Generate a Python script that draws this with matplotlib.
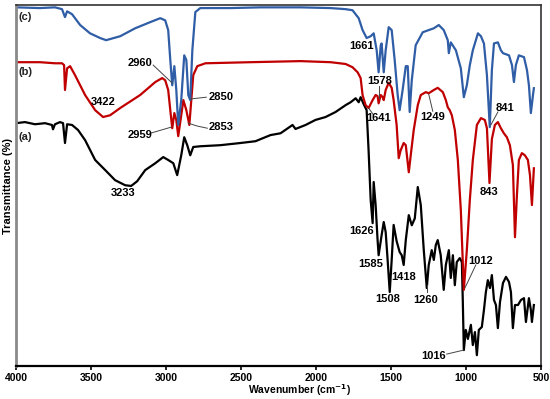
import matplotlib
matplotlib.use("Agg")
import matplotlib.pyplot as plt

plt.rcParams['font.family'] = ['Liberation Sans', 'DejaVu Sans']
plt.rcParams['font.weight'] = 'bold'

# ---- spectrum (c) ----
wn_c = [4000, 3840, 3740, 3693, 3673, 3659, 3626, 3572, 3506, 3439, 3399, 3305, 3205, 3105, 3038, 3005,
        2985, 2971, 2958, 2944, 2931, 2918, 2898, 2878, 2864, 2851, 2838, 2824, 2804, 2771, 2570, 2370,
        2103, 1902, 1802, 1756, 1715, 1689, 1662, 1635, 1615, 1595, 1582, 1568, 1562, 1548, 1535, 1515,
        1495, 1475, 1455, 1442, 1422, 1401, 1388, 1375, 1361, 1335, 1288, 1248, 1214, 1181, 1148, 1121,
        1114, 1101, 1067, 1034, 1014, 994, 974, 954, 920, 900, 880, 860, 841, 827, 813, 787, 767, 753,
        713, 693, 680, 667, 647, 613, 593, 580, 567, 553, 547]
t_c = [99.4, 99.2, 99.4, 98.9, 96.7, 98.3, 97.5, 94.5, 92.2, 90.9, 90.3, 91.4, 93.6, 95.3, 96.4, 95.8,
       93.1, 84.8, 77.8, 83.1, 76.5, 66.8, 73.7, 86.1, 84.8, 75.1, 73.7, 87.5, 98.1, 99.2, 99.2, 99.4,
       99.4, 99.2, 98.9, 98.6, 96.4, 93.1, 90.9, 91.4, 92.2, 87.5, 81.4, 88.9, 89.4, 81.4, 87.5, 93.9,
       93.1, 84.8, 75.1, 70.9, 76.5, 83.1, 83.1, 70.4, 79.2, 88.9, 92.5, 93.1, 93.6, 94.5, 93.1, 90.3,
       86.7, 89.7, 87.5, 82.5, 74.5, 77.8, 83.4, 87.5, 92.2, 91.4, 89.4, 80.6, 66.2, 82.0, 89.4, 89.7,
       87.5, 86.7, 86.1, 83.4, 78.7, 83.4, 86.1, 85.6, 82.0, 77.8, 70.1, 75.1, 77.0]

# ---- spectrum (b) ----
wn_b = [4000, 3840, 3740, 3693, 3679, 3673, 3659, 3639, 3606, 3539, 3472, 3419, 3372, 3305, 3172, 3071,
        3025, 3005, 2985, 2971, 2958, 2944, 2931, 2918, 2898, 2884, 2864, 2844, 2831, 2818, 2791, 2737,
        2437, 2103, 1902, 1802, 1756, 1722, 1702, 1689, 1669, 1649, 1622, 1602, 1589, 1582, 1568, 1555,
        1548, 1535, 1515, 1495, 1482, 1462, 1448, 1435, 1415, 1401, 1381, 1368, 1348, 1321, 1301, 1268,
        1248, 1214, 1188, 1154, 1134, 1121, 1108, 1094, 1074, 1054, 1034, 1014, 994, 974, 954, 927, 900,
        874, 860, 843, 827, 807, 787, 767, 747, 727, 707, 687, 673, 660, 647, 627, 607, 587, 573, 560,
        553, 547]
t_b = [84.2, 84.2, 83.9, 83.9, 83.4, 76.5, 82.5, 83.1, 80.6, 75.1, 70.9, 69.0, 69.5, 71.5, 75.1, 78.7,
       79.8, 79.2, 76.5, 70.9, 65.9, 70.1, 68.2, 63.7, 69.5, 73.7, 70.9, 66.8, 73.7, 80.6, 83.1, 83.9,
       84.2, 84.5, 84.2, 83.7, 82.8, 81.4, 79.8, 75.1, 72.3, 71.5, 73.7, 75.1, 74.8, 72.8, 75.1, 74.5,
       73.7, 76.5, 78.5, 77.1, 73.7, 66.8, 57.6, 59.8, 61.8, 61.2, 53.7, 58.4, 65.4, 72.3, 75.1, 75.9,
       75.6, 76.5, 77.1, 75.9, 73.7, 71.7, 70.9, 69.5, 65.4, 57.1, 43.2, 21.1, 32.1, 46.0, 57.1, 66.8, 68.7,
       68.2, 65.9, 50.7, 62.9, 66.8, 67.6, 65.9, 64.5, 63.4, 61.2, 55.7, 35.7, 47.4, 57.1, 59.0, 58.4, 57.1,
       52.9, 44.6, 50.1, 54.8]

# ---- spectrum (a) ----
wn_a = [4000, 3940, 3873, 3806, 3760, 3753, 3740, 3706, 3686, 3673, 3659, 3626, 3586, 3539, 3472, 3405,
        3339, 3272, 3232, 3192, 3138, 3071, 3018, 2985, 2951, 2925, 2898, 2878, 2858, 2838, 2818, 2771,
        2637, 2504, 2403, 2303, 2236, 2156, 2136, 2069, 2003, 1936, 1869, 1802, 1769, 1735, 1715, 1702,
        1682, 1662, 1649, 1635, 1622, 1615, 1602, 1589, 1582, 1562, 1548, 1535, 1522, 1508, 1495, 1482,
        1462, 1442, 1428, 1415, 1401, 1381, 1361, 1341, 1321, 1301, 1281, 1261, 1248, 1228, 1214, 1201,
        1188, 1168, 1148, 1134, 1114, 1101, 1087, 1074, 1061,
        1041, 1027, 1021, 1014, 1001, 987, 967, 954, 940, 927, 914, 894, 880, 867, 854, 840, 827, 813,
        800, 787, 773, 753, 733, 713, 700, 687, 673, 653, 633, 613, 600, 580, 567, 560, 547]
t_a = [67.3, 67.6, 67.0, 67.3, 66.8, 65.6, 67.0, 67.6, 67.3, 61.8, 67.0, 66.8, 65.4, 62.6, 57.1, 54.3,
       51.5, 50.1, 49.9, 51.2, 54.3, 56.2, 57.9, 57.1, 56.2, 52.9, 58.4, 63.4, 61.2, 58.4, 60.7, 60.9,
       61.2, 61.8, 62.3, 64.0, 64.5, 66.8, 65.7, 66.8, 68.2, 69.0, 70.4, 72.3, 73.1, 74.2, 73.1, 74.5,
       72.6, 70.9, 59.8, 46.0, 39.6, 51.0, 44.6, 34.9, 30.7, 36.3, 39.9, 37.1, 29.4, 20.5, 29.4, 39.1,
       34.6, 31.6, 30.7, 28.0, 34.9, 41.8, 39.0, 40.9, 49.6, 44.6, 32.1, 21.6, 28.0, 32.1, 29.4, 33.5,
       34.9, 30.7, 21.1, 28.0, 32.1, 24.4, 30.7, 22.4, 28.8,
       29.9, 28.8, 18.3, 4.4, 10.0, 7.5, 11.4, 5.8, 9.4, 3.0, 10.0, 10.8, 15.5, 20.5, 23.8, 21.6, 25.2, 18.3,
       16.9, 10.5, 17.7, 23.0, 24.7, 23.3, 20.5, 10.5, 16.9, 16.9, 18.3, 18.8, 12.2, 18.8, 15.5, 12.2, 16.9]

# ---- peak labels: (text, text_x, text_y, ha, leader line points) ----
labels = [
    ("2960", 3172, 83.9, "center", [(3085, 83.4), (2958, 78.4)]),
    ("3422", 3419, 73.1, "center", None),
    ("2850", 2717, 74.5, "left", [(2838, 74.0), (2731, 74.5)]),
    ("2853", 2717, 66.2, "left", [(2851, 67.3), (2791, 66.5), (2724, 65.9)]),
    ("2959", 3172, 64.0, "center", [(3105, 64.5), (2965, 66.2)]),
    ("3233", 3285, 47.9, "center", None),
    ("1661", 1695, 88.6, "center", None),
    ("1578", 1575, 78.9, "center", [(1582, 77.6), (1582, 74.2)]),
    ("1641", 1582, 68.7, "center", [(1649, 71.5), (1615, 69.5)]),
    ("1249", 1221, 69.0, "center", [(1221, 70.6), (1248, 75.3)]),
    ("841", 740, 71.5, "center", [(787, 70.4), (834, 66.8)]),
    ("843", 847, 48.2, "center", None),
    ("1626", 1695, 37.4, "center", None),
    ("1585", 1635, 28.3, "center", None),
    ("1418", 1415, 24.7, "center", None),
    ("1508", 1522, 18.6, "center", None),
    ("1260", 1268, 18.3, "center", [(1261, 20.5), (1261, 22.4)]),
    ("1012", 900, 29.1, "center", [(934, 28.0), (1007, 21.6)]),
    ("1016", 1214, 2.8, "center", [(1128, 3.3), (1016, 4.4)]),
]
series_tags = [("(c)", 96.7), ("(b)", 81.4), ("(a)", 63.4)]
xticks = [4000, 3500, 3000, 2500, 2000, 1500, 1000, 500]

fig = plt.figure(figsize=(5.5, 3.99), dpi=100)
ax = fig.add_axes([0.029, 0.0827, 0.9545, 0.9043])

ax.plot(wn_a, t_a, color="black", lw=1.6)
ax.plot(wn_b, t_b, color="#C00000", lw=1.6)
ax.plot(wn_c, t_c, color="#2F5DA6", lw=1.6)

for txt, x, y, ha, pts in labels:
    ax.text(x, y, txt, ha=ha, va="center", fontsize=8, fontweight="bold")
    if pts:
        ax.plot([p[0] for p in pts], [p[1] for p in pts], color="#444444", lw=0.7)

for tag, y in series_tags:
    ax.text(3985, y, tag, ha="left", va="center", fontsize=8, fontweight="bold", color="#222222")

ax.set_xlim(4000, 500)
ax.set_ylim(0, 100)
ax.set_xticks(xticks)
ax.set_xticklabels([str(t) for t in xticks], fontsize=7.5, fontweight="bold")
ax.set_yticks([])
ax.tick_params(axis="x", direction="out", length=3, width=1.2, pad=2)
fig.text(0.545, 0.022, "Wavenumber (cm$^{\\mathbf{-1}}$)", ha="center", va="center",
         fontsize=7.5, fontweight="bold")
ax.set_ylabel("Transmittance (%)", fontsize=8, fontweight="bold", labelpad=2)

ax.spines["left"].set_color("#8a8a8a")
ax.spines["left"].set_linewidth(2)
ax.spines["bottom"].set_color("black")
ax.spines["bottom"].set_linewidth(1.6)
ax.spines["top"].set_color("#333333")
ax.spines["top"].set_linewidth(1.2)
ax.spines["right"].set_color("#333333")
ax.spines["right"].set_linewidth(1.2)

fig.savefig("out.png", dpi=100)
